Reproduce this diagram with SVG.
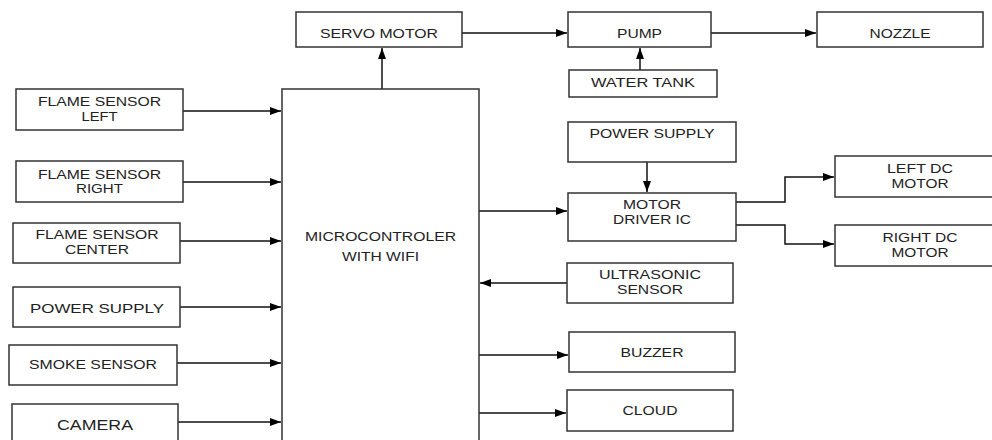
<svg xmlns="http://www.w3.org/2000/svg" width="992" height="440" viewBox="0 0 992 440">
<defs>
<marker id="ah" markerUnits="userSpaceOnUse" markerWidth="12" markerHeight="9" refX="11" refY="4" orient="auto">
<path d="M0,0 L11,4 L0,8 z" fill="#000"/>
</marker>
<style>
.box{fill:#fff;stroke:#333;stroke-width:1.5}
.lbl{font-family:"Liberation Sans",Arial,sans-serif;font-size:13px;fill:#222;text-anchor:middle}
.con{fill:none;stroke:#111;stroke-width:1.5}
</style>
</defs>
<rect width="992" height="440" fill="#fff"/>
<g id="connectors">
<path class="con" d="M382,89 V48" marker-end="url(#ah)"/>
<path class="con" d="M462,33 H567" marker-end="url(#ah)"/>
<path class="con" d="M711,33 H816" marker-end="url(#ah)"/>
<path class="con" d="M640,70 V48" marker-end="url(#ah)"/>
<path class="con" d="M647,162 V192" marker-end="url(#ah)"/>
<path class="con" d="M479,211 H567" marker-end="url(#ah)"/>
<path class="con" d="M736,202 H785 V177 H834" marker-end="url(#ah)"/>
<path class="con" d="M736,225 H785 V244 H834" marker-end="url(#ah)"/>
<path class="con" d="M567,283 H480" marker-end="url(#ah)"/>
<path class="con" d="M479,355 H568" marker-end="url(#ah)"/>
<path class="con" d="M479,413 H566" marker-end="url(#ah)"/>
<path class="con" d="M183,111 H281" marker-end="url(#ah)"/>
<path class="con" d="M183,182 H281" marker-end="url(#ah)"/>
<path class="con" d="M180,241 H281" marker-end="url(#ah)"/>
<path class="con" d="M180,307 H281" marker-end="url(#ah)"/>
<path class="con" d="M177,363 H281" marker-end="url(#ah)"/>
<path class="con" d="M178,422 H281" marker-end="url(#ah)"/>
</g>
<g id="servo">
<rect class="box" x="296" y="12" width="166" height="35"/>
<text class="lbl" x="379" y="38" textLength="118" lengthAdjust="spacingAndGlyphs">SERVO MOTOR</text>
</g>
<g id="pump">
<rect class="box" x="568" y="12" width="143" height="35"/>
<text class="lbl" x="639.5" y="38" textLength="45" lengthAdjust="spacingAndGlyphs">PUMP</text>
</g>
<g id="nozzle">
<rect class="box" x="817" y="12" width="166" height="35"/>
<text class="lbl" x="900" y="38" textLength="61" lengthAdjust="spacingAndGlyphs">NOZZLE</text>
</g>
<g id="watertank">
<rect class="box" x="569" y="70" width="148" height="27"/>
<text class="lbl" x="643" y="87" textLength="104" lengthAdjust="spacingAndGlyphs">WATER TANK</text>
</g>
<g id="powersupply2">
<rect class="box" x="568" y="122" width="168" height="40"/>
<text class="lbl" x="652" y="138" textLength="125" lengthAdjust="spacingAndGlyphs">POWER SUPPLY</text>
</g>
<g id="motordriver">
<rect class="box" x="568" y="193" width="168" height="48"/>
<text class="lbl" x="652" y="209" textLength="58" lengthAdjust="spacingAndGlyphs">MOTOR</text>
<text class="lbl" x="652" y="224" textLength="78" lengthAdjust="spacingAndGlyphs">DRIVER IC</text>
</g>
<g id="leftdc">
<rect class="box" x="835" y="156" width="162" height="41"/>
<text class="lbl" x="920" y="173" textLength="66" lengthAdjust="spacingAndGlyphs">LEFT DC</text>
<text class="lbl" x="920" y="188" textLength="57" lengthAdjust="spacingAndGlyphs">MOTOR</text>
</g>
<g id="rightdc">
<rect class="box" x="835" y="225" width="162" height="41"/>
<text class="lbl" x="920" y="242" textLength="75" lengthAdjust="spacingAndGlyphs">RIGHT DC</text>
<text class="lbl" x="920" y="257" textLength="57" lengthAdjust="spacingAndGlyphs">MOTOR</text>
</g>
<g id="ultrasonic">
<rect class="box" x="567" y="263" width="166" height="40"/>
<text class="lbl" x="650" y="279" textLength="102" lengthAdjust="spacingAndGlyphs">ULTRASONIC</text>
<text class="lbl" x="650" y="294" textLength="66" lengthAdjust="spacingAndGlyphs">SENSOR</text>
</g>
<g id="buzzer">
<rect class="box" x="569" y="332" width="166" height="40"/>
<text class="lbl" x="652" y="357" textLength="63" lengthAdjust="spacingAndGlyphs">BUZZER</text>
</g>
<g id="cloud">
<rect class="box" x="567" y="390" width="166" height="41"/>
<text class="lbl" x="650" y="415" textLength="55" lengthAdjust="spacingAndGlyphs">CLOUD</text>
</g>
<g id="mcu">
<rect class="box" x="282" y="89" width="197" height="360"/>
<text class="lbl" x="380.5" y="241" textLength="151" lengthAdjust="spacingAndGlyphs">MICROCONTROLER</text>
<text class="lbl" x="380.5" y="261" textLength="77" lengthAdjust="spacingAndGlyphs">WITH WIFI</text>
</g>
<g id="flameleft">
<rect class="box" x="16" y="89" width="167" height="41"/>
<text class="lbl" x="99.5" y="106" textLength="123" lengthAdjust="spacingAndGlyphs">FLAME SENSOR</text>
<text class="lbl" x="99.5" y="121" textLength="36" lengthAdjust="spacingAndGlyphs">LEFT</text>
</g>
<g id="flameright">
<rect class="box" x="16" y="161" width="167" height="41"/>
<text class="lbl" x="99.5" y="179" textLength="123" lengthAdjust="spacingAndGlyphs">FLAME SENSOR</text>
<text class="lbl" x="99.5" y="193" textLength="47" lengthAdjust="spacingAndGlyphs">RIGHT</text>
</g>
<g id="flamecenter">
<rect class="box" x="13" y="223" width="167" height="40"/>
<text class="lbl" x="97" y="239" textLength="123" lengthAdjust="spacingAndGlyphs">FLAME SENSOR</text>
<text class="lbl" x="97" y="254" textLength="64" lengthAdjust="spacingAndGlyphs">CENTER</text>
</g>
<g id="powersupply1">
<rect class="box" x="13" y="287" width="167" height="40"/>
<text class="lbl" x="97" y="313" textLength="134" lengthAdjust="spacingAndGlyphs">POWER SUPPLY</text>
</g>
<g id="smoke">
<rect class="box" x="9" y="345" width="168" height="40"/>
<text class="lbl" x="93" y="369" textLength="128" lengthAdjust="spacingAndGlyphs">SMOKE SENSOR</text>
</g>
<g id="camera">
<rect class="box" x="12" y="404" width="166" height="45"/>
<text class="lbl" x="95" y="430" textLength="76" lengthAdjust="spacingAndGlyphs" style="font-size:14px">CAMERA</text>
</g>
</svg>
